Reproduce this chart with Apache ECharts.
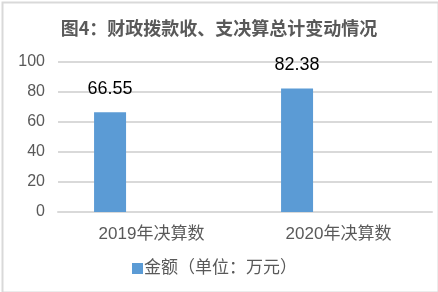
<!DOCTYPE html>
<html>
<head>
<meta charset="utf-8">
<script src="https://cdn.jsdelivr.net/npm/echarts@6/dist/echarts.min.js"></script>
<style>
html,body{margin:0;padding:0;background:#fff;}
#c{width:438px;height:292px;}
</style>
</head>
<body>
<div id="c"></div>
<script>
var titleText = '图4：财政拨款收、支决算总计变动情况';
var categories = ['2019年决算数', '2020年决算数'];
var seriesName = '金额（单位：万元）';
var values = [66.55, 82.38];
var yTicks = [0, 20, 40, 60, 80, 100];

var chart = echarts.init(document.getElementById('c'), null, {renderer: 'canvas'});
var txt = '#595959';
var fam = '"Liberation Sans", "Noto Sans CJK SC", sans-serif';
chart.setOption({
  animation: false,
  backgroundColor: '#fff',
  title: {
    text: titleText,
    left: 'center',
    top: 14,
    textStyle: {color: txt, fontSize: 18, fontWeight: 'bold', fontFamily: '"Noto Sans CJK SC", serif'}
  },
  graphic: [{
    type: 'rect', left: 0, top: 0, z: 100,
    shape: {x: 1, y: 1, width: 436, height: 290},
    style: {fill: 'none', stroke: '#d9d9d9', lineWidth: 2}
  }],
  legend: {
    data: [seriesName],
    left: 127,
    top: 255,
    itemWidth: 11,
    itemHeight: 11,
    itemGap: 0,
    textStyle: {color: txt, fontSize: 17, fontFamily: fam, padding: [0, 0, 0, -4]},
    icon: 'rect'
  },
  grid: {left: 58, right: 6, top: 62, bottom: 80, containLabel: false},
  xAxis: {
    type: 'category',
    data: categories,
    axisLine: {show: true, lineStyle: {color: '#d9d9d9', width: 2}},
    axisTick: {show: false},
    axisLabel: {color: txt, fontSize: 17, fontFamily: fam, margin: 14}
  },
  yAxis: {
    type: 'value',
    min: yTicks[0],
    max: yTicks[yTicks.length - 1],
    interval: yTicks[1] - yTicks[0],
    axisLine: {show: false},
    axisTick: {show: false},
    splitLine: {lineStyle: {color: '#d9d9d9', width: 2}},
    axisLabel: {color: txt, fontSize: 16, fontFamily: fam, margin: 13}
  },
  series: [{
    name: seriesName,
    type: 'bar',
    data: values,
    barWidth: 32,
    barGap: '159%',
    itemStyle: {color: '#5b9bd5'},
    label: {show: true, position: 'top', distance: 14, color: '#000', fontSize: 18, fontFamily: fam}
  }, {
    name: 'pad',
    type: 'bar',
    data: [null, null],
    barWidth: 32,
    barGap: '159%'
  }]
});
</script>
</body>
</html>
